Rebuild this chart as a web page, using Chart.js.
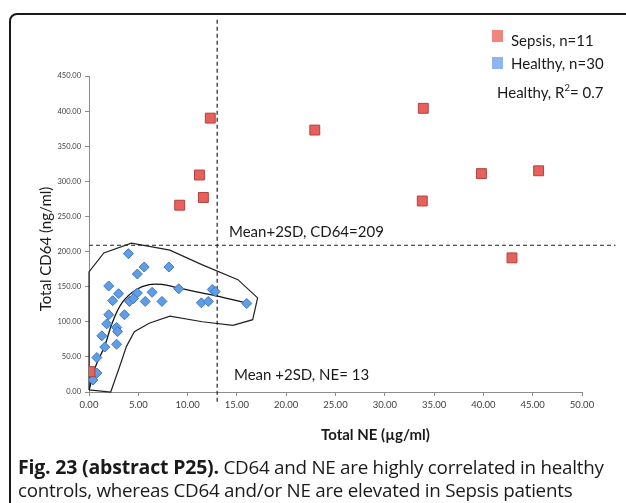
<!DOCTYPE html>
<html>
<head>
<meta charset="utf-8">
<script src="https://cdn.jsdelivr.net/npm/chart.js@4.4.1/dist/chart.umd.min.js"></script>
<style>
  html, body { margin: 0; padding: 0; background: #fff; }
  body { width: 626px; height: 503px; position: relative; overflow: hidden; }
  #frame {
    position: absolute; left: 9px; top: 13px; width: 700px; height: 600px;
    border: 2px solid #1a1a1a; border-radius: 8px; pointer-events: none;
  }
  #wrap { position: absolute; left: 0; top: 0; width: 626px; height: 503px; }
  .caption {
    position: absolute; left: 18px; font-family: "Open Sans", sans-serif; font-size: 18.8px;
    line-height: 22px; color: #1a1a1a; white-space: nowrap; letter-spacing: -0.25px;
  }
  .caption b { font-weight: 700; font-size: 19.5px; letter-spacing: -0.2px; }
</style>
</head>
<body>
<div id="wrap"><canvas id="cdChart" width="626" height="503"></canvas></div>
<div id="frame"></div>
<div class="caption" style="top:456px"><b>Fig. 23 (abstract P25).</b> CD64 and NE are highly correlated in healthy</div>
<div class="caption" style="top:479px">controls, whereas CD64 and/or NE are elevated in Sepsis patients</div>
<script>
// Total NE (x) and total CD64 (y) per subject
const sepsisNE   = [12.3, 22.9, 33.9, 11.2, 11.6, 9.2, 33.8, 39.8, 45.6, 42.9, 0.1];
const sepsisCD64 = [390, 373, 404, 309, 277, 266, 272, 311, 315, 191, 29];

const healthyNE   = [4.0, 2.0, 5.6, 4.9, 8.1, 9.1, 3.0, 2.4, 4.9, 6.4, 4.1, 4.5, 5.7, 7.4, 11.4,
                     12.1, 12.5, 12.8, 16.0, 2.0, 3.6, 1.8, 2.8, 2.9, 1.3, 1.6, 2.8, 0.8, 0.8, 0.4];
const healthyCD64 = [197, 151, 178, 168, 178, 147, 140, 130, 141, 142, 129, 133, 129, 129, 127,
                     129, 146, 143, 126, 110, 110, 97, 92, 86, 80, 64, 68, 49, 27, 17];

// fitted trend through the healthy group
const trendNE   = [0, 0.6, 1.6, 2.4, 3.4, 4.8, 6.1, 7.5, 8.8, 12.2, 15.9];
const trendCD64 = [2, 34, 66, 100, 128, 146, 153, 153, 149, 139, 127];

// hand-drawn outline around the healthy cloud
const hullNE   = [0, 0, 1.5, 4.3, 8.2, 11.5, 15.1, 17.1, 16.6, 14.6, 11.5, 8.2, 6.1, 4.6, 3.8, 3.1, 2.2, 0];
const hullCD64 = [3, 171, 198, 212, 202, 181, 160, 134, 103, 95, 100, 108, 98, 86, 65, 36, 0, 3];

// Mean+2SD cut-offs
const cutCD64 = 209;
const cutNE = 13;

const xTicks = [0, 5, 10, 15, 20, 25, 30, 35, 40, 45, 50];
const yTicks = [0, 50, 100, 150, 200, 250, 300, 350, 400, 450];

const toPts = (xs, ys) => xs.map((x, i) => ({x: x, y: ys[i]}));

const FONT = 'Lato, sans-serif';

const annotations = {
    id: 'annotations',
    afterDraw(chart) {
        const ctx = chart.ctx;
        ctx.save();
        ctx.textBaseline = 'middle';
        ctx.textAlign = 'left';

        // legend
        ctx.fillStyle = '#f2847f';
        ctx.fillRect(492, 30, 11, 12);
        ctx.fillStyle = '#8db6f0';
        ctx.fillRect(492, 57, 11, 12);
        ctx.fillStyle = '#1a1a1a';
        ctx.font = '15px ' + FONT;
        ctx.fillText('Sepsis, n=11', 511, 41);
        ctx.fillText('Healthy, n=30', 511, 64);
        ctx.fillText('Healthy, R', 497, 93);
        let w = ctx.measureText('Healthy, R').width;
        ctx.font = '9.5px ' + FONT;
        ctx.fillText('2', 497 + w, 88);
        let w2 = ctx.measureText('2').width;
        ctx.font = '15px ' + FONT;
        ctx.fillText('= 0.7', 497 + w + w2, 93);

        // cut-off labels
        ctx.fillText('Mean+2SD, CD64=209', 229, 232);
        ctx.fillText('Mean +2SD, NE= 13', 234, 375);

        // axis titles
        ctx.font = 'bold 15px ' + FONT;
        ctx.fillText('Total NE (\u00b5g/ml)', 321, 435);
        ctx.translate(46, 249);
        ctx.rotate(-Math.PI / 2);
        ctx.textAlign = 'center';
        ctx.font = '15px ' + FONT;
        ctx.fillText('Total CD64 (ng/ml)', 0, 0);
        ctx.restore();
    }
};

const ctx = document.getElementById('cdChart').getContext('2d');

new Chart(ctx, {
    type: 'scatter',
    data: {
        datasets: [
            {
                label: 'Sepsis, n=11',
                data: toPts(sepsisNE, sepsisCD64),
                pointStyle: 'rect',
                pointRadius: 7,
                backgroundColor: '#e8605c',
                borderColor: '#b3403c',
                borderWidth: 1,
                order: 0
            },
            {
                label: 'Healthy, n=30',
                data: toPts(healthyNE, healthyCD64),
                pointStyle: 'rectRot',
                pointRadius: 5,
                backgroundColor: '#5f9ee6',
                borderColor: '#3c78c8',
                borderWidth: 1,
                order: 1
            },
            {
                label: 'trend',
                data: toPts(trendNE, trendCD64),
                showLine: true,
                tension: 0.4,
                pointRadius: 0,
                borderColor: '#111',
                borderWidth: 1.3,
                order: 2
            },
            {
                label: 'outline',
                data: toPts(hullNE, hullCD64),
                showLine: true,
                tension: 0,
                pointRadius: 0,
                borderColor: '#222',
                borderWidth: 1.2,
                clip: false,
                order: 3
            },
            {
                label: 'cutCD64',
                data: [{x: 0, y: cutCD64}, {x: 53.4, y: cutCD64}],
                showLine: true,
                pointRadius: 0,
                borderColor: '#222',
                borderWidth: 1.2,
                borderDash: [4, 3],
                clip: false,
                order: 4
            },
            {
                label: 'cutNE',
                data: [{x: cutNE, y: -14}, {x: cutNE, y: 530}],
                showLine: true,
                pointRadius: 0,
                borderColor: '#222',
                borderWidth: 1.2,
                borderDash: [4, 3],
                clip: false,
                order: 4
            }
        ]
    },
    options: {
        responsive: false,
        animation: false,
        events: [],
        layout: { padding: { left: 0, top: 76, right: 44, bottom: 0 } },
        plugins: { legend: { display: false }, tooltip: { enabled: false } },
        scales: {
            x: {
                type: 'linear',
                min: 0, max: 50,
                afterBuildTicks: (scale) => { scale.ticks = xTicks.map(v => ({value: v})); },
                afterFit: (scale) => { scale.height = 111; },
                ticks: {
                    callback: (v) => v.toFixed(2),
                    autoSkip: false, maxRotation: 0,
                    font: { family: FONT, size: 9.5 }, color: '#404040', padding: 3
                },
                grid: { drawOnChartArea: false, drawTicks: true, tickLength: 4, color: '#8c8c8c' },
                border: { color: '#8c8c8c' }
            },
            y: {
                min: 0, max: 450,
                afterBuildTicks: (scale) => { scale.ticks = yTicks.map(v => ({value: v})); },
                afterFit: (scale) => { scale.width = 89; },
                ticks: {
                    callback: (v) => v.toFixed(2),
                    autoSkip: false,
                    font: { family: FONT, size: 7.5 }, color: '#404040', padding: 4
                },
                grid: { drawOnChartArea: false, drawTicks: true, tickLength: 4, color: '#8c8c8c' },
                border: { color: '#8c8c8c' }
            }
        }
    },
    plugins: [annotations]
});
</script>
</body>
</html>
